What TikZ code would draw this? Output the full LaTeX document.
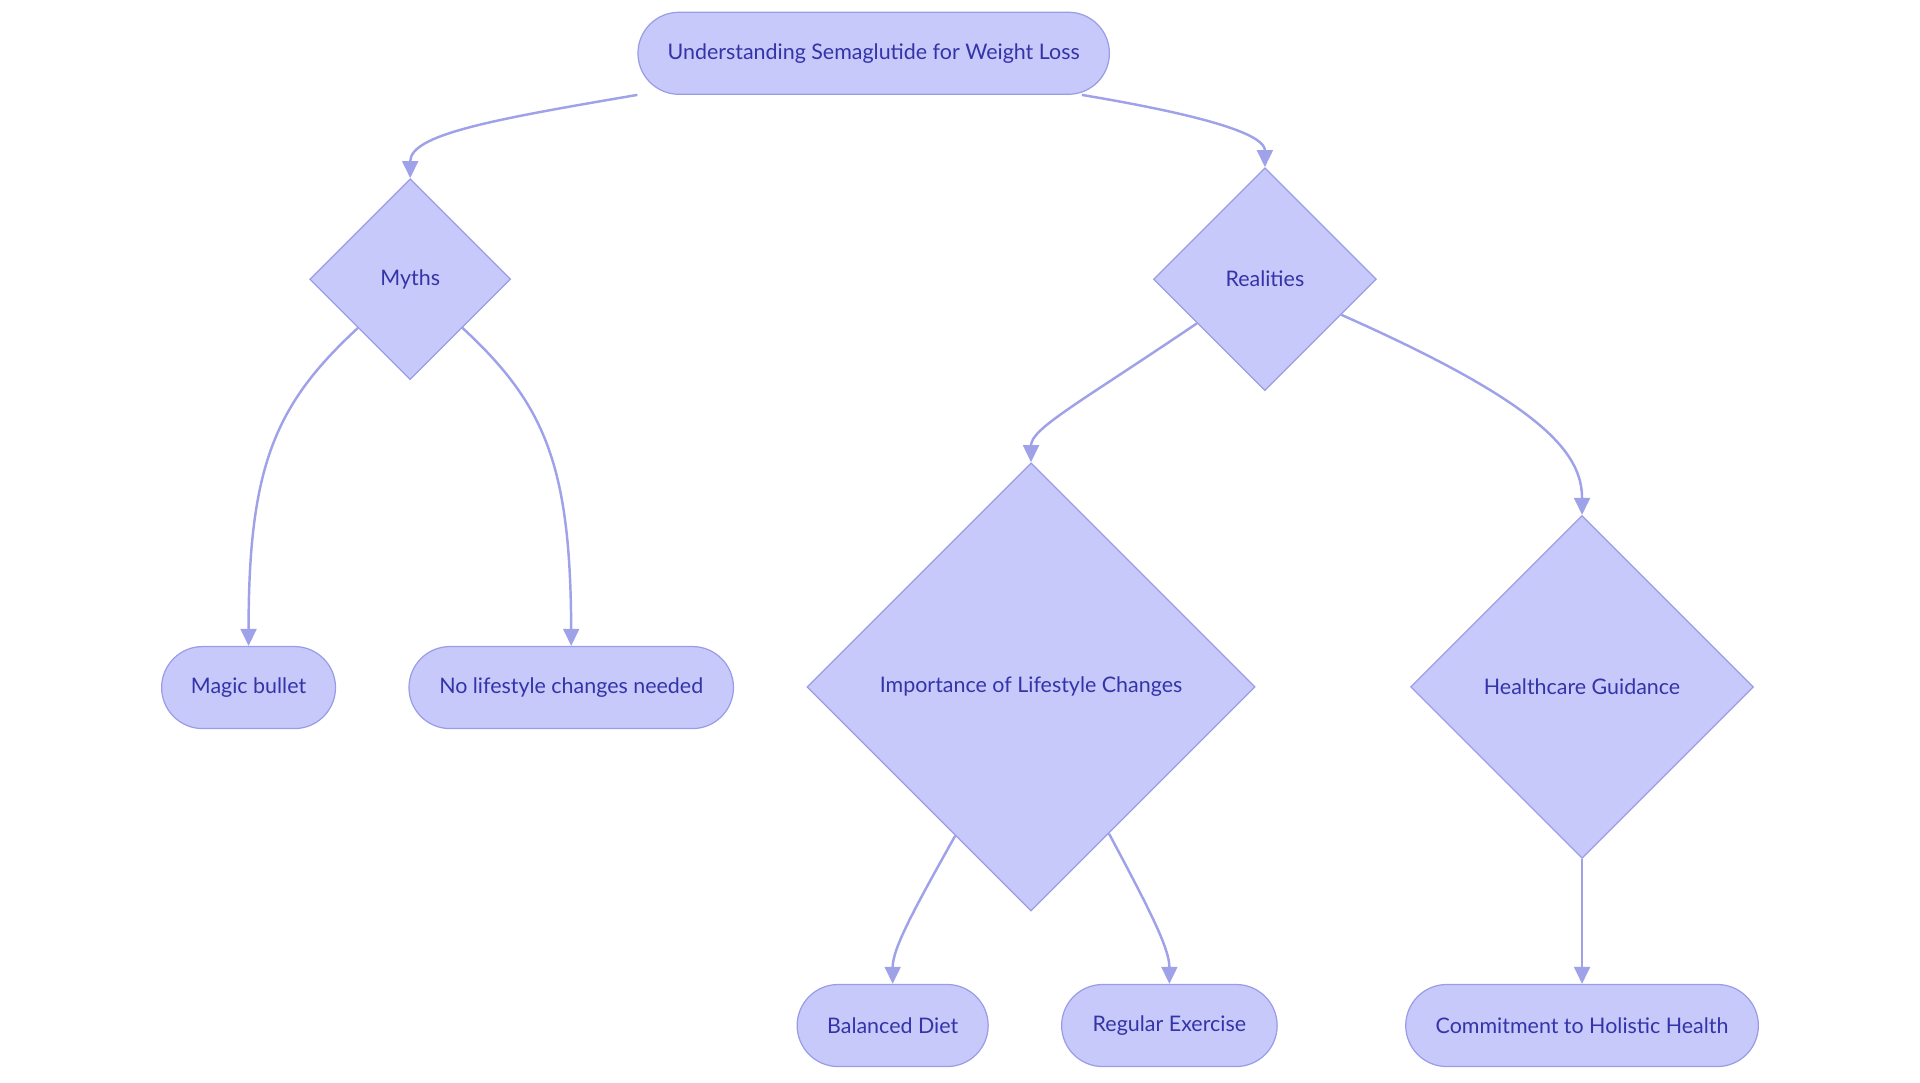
\documentclass[tikz,border=0pt]{standalone}
\usepackage{fontspec}
\setmainfont{Lato}
\usetikzlibrary{shapes.geometric,arrows.meta}
\definecolor{boxfill}{HTML}{C7C9FB}
\definecolor{boxline}{HTML}{9A9DE6}
\definecolor{boxtext}{HTML}{3434A8}
\definecolor{linkline}{HTML}{9FA1E9}
\begin{document}
\begin{tikzpicture}[x=1pt,y=-1pt,
  stadium/.style={shape=rectangle,rounded corners=33.5pt,minimum height=67pt,fill=boxfill,draw=boxline,line width=1pt,text=boxtext,font=\fontsize{17.5}{20}\selectfont},
  choice/.style={shape=diamond,aspect=1,inner sep=0pt,fill=boxfill,draw=boxline,line width=1pt,text=boxtext,font=\fontsize{17.5}{20}\selectfont},
  link/.style={draw=linkline,line width=2pt,-{Triangle[length=14pt,width=13pt]}}]
  \useasboundingbox (0,0) rectangle (1568,884);
  \node[stadium,minimum width=385pt] (top) at (713.5,43.5) {Understanding Semaglutide for Weight Loss};
  \node[choice,minimum width=164pt,minimum height=164pt] (myths) at (335,228) {Myths};
  \node[choice,minimum width=182pt,minimum height=182pt] (real) at (1033,228) {Realities};
  \node[stadium,minimum width=142pt] (magic) at (203,561.5) {Magic bullet};
  \node[stadium,minimum width=265pt] (nolife) at (466.5,561.5) {No lifestyle changes needed};
  \node[choice,minimum width=366pt,minimum height=366pt] (imp) at (842,561) {Importance of Lifestyle Changes};
  \node[choice,minimum width=280pt,minimum height=280pt] (health) at (1292,561) {Healthcare Guidance};
  \node[stadium,minimum width=156pt] (diet) at (729,837.5) {Balanced Diet};
  \node[stadium,minimum width=176pt] (exer) at (955,837.5) {Regular Exercise};
  \node[stadium,minimum width=288pt] (commit) at (1292,837.5) {Commitment to Holistic Health};
  \draw[link] (top.south west) .. controls (400,98) and (335,110) .. (myths.north);
  \draw[link] ([xshift=-23pt]top.south east) .. controls (1000,97) and (1033,112) .. (real.north);
  \draw[link] (myths.-137) .. controls (225,330) and (203,380) .. (magic.north);
  \draw[link] (myths.-43) .. controls (445,330) and (466,380) .. (nolife.north);
  \draw[link] (real.-147) .. controls (880,330) and (842,350) .. (imp.north);
  \draw[link] (real.-25) .. controls (1260,330) and (1292,370) .. (health.north);
  \draw[link] (imp.-117.5) .. controls (745,745) and (729,775) .. (diet.north);
  \draw[link] (imp.-62.5) .. controls (940,745) and (955,775) .. (exer.north);
  \draw[link] (health.south) -- (commit.north);
\end{tikzpicture}
\end{document}
